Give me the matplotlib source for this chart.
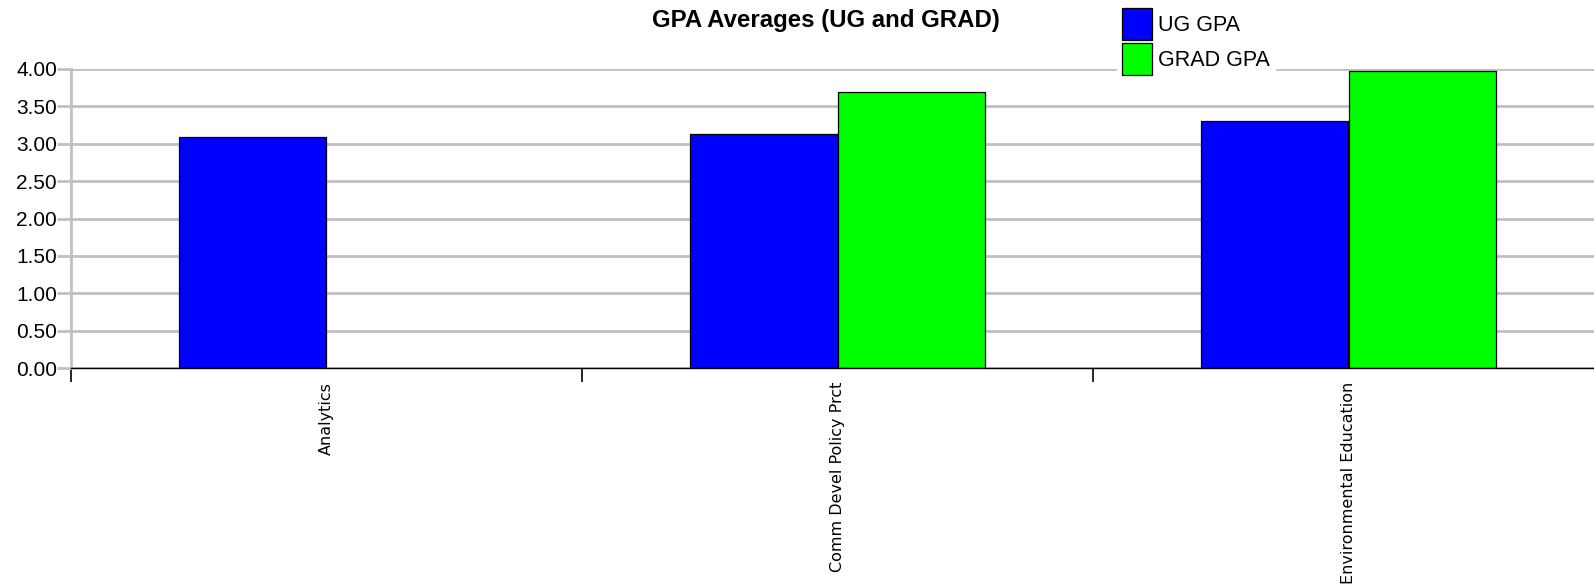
import numpy as np
import matplotlib.pyplot as plt
from matplotlib.patches import Patch

# =========================
# data
# =========================
categories = ["Analytics", "Comm Devel Policy Prct", "Environmental Education"]
ug_gpa = [3.09, 3.13, 3.31]
grad_gpa = [np.nan, 3.69, 3.97]
yticks = [0.0, 0.5, 1.0, 1.5, 2.0, 2.5, 3.0, 3.5, 4.0]

GRID = "#c0c0c0"
W = 0.288

fig = plt.figure(figsize=(15.94, 5.86), dpi=100)
ax = fig.add_axes([71 / 1594, 218 / 586, 1533 / 1594, 299 / 586])

x = np.arange(len(categories)) + 0.5

ax.bar(x - W / 2, ug_gpa, width=W, color="#0000ff",
       edgecolor="black", linewidth=0.9, zorder=3)
ax.bar(x + W / 2, grad_gpa, width=W, color="#00ff00",
       edgecolor="black", linewidth=0.9, zorder=3)

ax.set_xlim(0, 3)
ax.set_ylim(0, 4)

ax.set_yticks(yticks)
ax.set_yticklabels([f"{v:.2f}" for v in yticks],
                   family="Liberation Sans", fontsize=15)
ax.yaxis.grid(True, color=GRID, linewidth=2.0, zorder=0)
ax.tick_params(axis="y", length=10, width=2.0, color=GRID, pad=0)

# category boundaries as major ticks, labels on minor ticks
ax.set_xticks([0, 1, 2])
ax.set_xticklabels([])
ax.set_xticks(x, minor=True)
ax.set_xticklabels(categories, minor=True, rotation=90,
                   family="DejaVu Sans", fontsize=11.5)
ax.tick_params(axis="x", which="major", length=10, width=1.2, color="black")
ax.tick_params(axis="x", which="minor", length=0, pad=10)

for s in ["top", "right"]:
    ax.spines[s].set_visible(False)
ax.spines["left"].set_color(GRID)
ax.spines["left"].set_linewidth(2.0)
ax.spines["bottom"].set_color("black")
ax.spines["bottom"].set_linewidth(1.0)
ax.spines["bottom"].set_zorder(4)

fig.text(826 / 1594, 1 - 20 / 586, "GPA Averages (UG and GRAD)",
         ha="center", va="center", family="Liberation Sans",
         fontweight="bold", fontsize=17.3)

handles = [
    Patch(facecolor="#0000ff", edgecolor="black", linewidth=0.9),
    Patch(facecolor="#00ff00", edgecolor="black", linewidth=0.9),
]
fig.legend(handles, ["UG GPA", "GRAD GPA"],
           loc="upper left", bbox_to_anchor=(1117 / 1594, 1 - 3 / 586),
           borderaxespad=0, frameon=True, fancybox=False,
           facecolor="white", edgecolor="white", framealpha=1,
           prop={"family": "Liberation Sans", "size": 15.5},
           handlelength=1.4, handleheight=1.93, handletextpad=0.28,
           labelspacing=0.12, borderpad=0.24)

fig.savefig("out.png", dpi=100)
plt.close(fig)
